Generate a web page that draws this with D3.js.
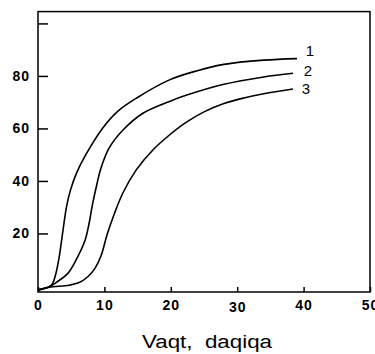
<!DOCTYPE html>
<html><head><meta charset="utf-8">
<script src="https://cdn.jsdelivr.net/npm/d3@7"></script>
<style>html,body{margin:0;padding:0;background:#fff;overflow:hidden}</style>
</head><body>
<svg id="c" width="375" height="354"></svg>
<script>
const xTicks = [0, 10, 20, 30, 40, 50];
const yTicks = [20, 40, 60, 80, 100];
const yTickLabels = ["20", "40", "60", "80", ""];
const seriesNames = ["1", "2", "3"];
const t1 = [0, 1.7, 2.2, 2.7, 3.2, 3.7, 4.3, 4.9, 5.8, 7.2, 9.7, 12, 14.8, 19.8, 24, 28, 34, 39];
const v1 = [-1.5, -0.3, 1, 4.8, 11.2, 20, 30.2, 36.6, 43, 50, 60, 66.5, 71.5, 78.5, 82, 84.4, 86, 86.6];
const t2 = [0, 1.7, 3, 4.5, 6.0, 7.1, 7.7, 8.2, 8.8, 9.5, 10.7, 12.8, 15.8, 19.8, 22.3, 28, 34, 38.4];
const v2 = [-1.5, -0.3, 1.8, 4.8, 11.2, 17.5, 23.9, 31, 38, 45, 52.5, 59.4, 65.8, 70.3, 72.6, 76.8, 79.6, 81];
const t3 = [0, 1.7, 4.7, 6.2, 7.5, 8.6, 9.5, 10.4, 11.5, 12.8, 14.8, 17.3, 19.8, 22.3, 25, 28, 31, 34, 38.4];
const v3 = [-1.5, -0.5, 0.3, 1.3, 3.5, 6.8, 11.5, 19.5, 27.5, 35.5, 44.2, 51.8, 57.5, 62.3, 66.3, 69.5, 71.6, 73.2, 75];
const xTitle = "Vaqt,  daqiqa";

const svg = d3.select("#c");
const x = d3.scaleLinear().domain([0, 50]).range([38, 370]);
const y = d3.scaleLinear().domain([-2.3, 104.5]).range([292, 11.6]);
const font = "'Liberation Sans', Arial, Helvetica, sans-serif";

// frame
svg.append("rect").attr("x", x(0)).attr("y", y(104.5)).attr("width", x(50) - x(0)).attr("height", y(-2.3) - y(104.5))
  .attr("fill", "none").attr("stroke", "#000").attr("stroke-width", 1.5);

// x axis ticks (inward)
const xa = svg.append("g").attr("transform", `translate(0,${y(-2.3)})`)
  .call(d3.axisBottom(x).tickValues(xTicks).tickSizeInner(-5).tickSizeOuter(0).tickPadding(0).tickFormat(d3.format("d")));
xa.select(".domain").remove();
xa.selectAll("line").attr("stroke-width", 1.5);
xa.selectAll("text").attr("font-family", font).attr("font-weight", "bold").attr("font-size", 14)
  .attr("fill", "#000").attr("y", 8).attr("dy", "0.71em").attr("letter-spacing", 1);
xa.selectAll(".tick").filter(d => d === 30).select("text").attr("y", 10);

// y axis ticks (inward)
const ya = svg.append("g").attr("transform", `translate(${x(0)},0)`)
  .call(d3.axisLeft(y).tickValues(yTicks).tickSizeInner(-10).tickSizeOuter(0).tickPadding(0)
    .tickFormat((d, i) => yTickLabels[i]));
ya.select(".domain").remove();
ya.selectAll("line").attr("stroke-width", 1.5);
ya.selectAll("text").attr("font-family", font).attr("font-weight", "bold").attr("font-size", 14)
  .attr("fill", "#000").attr("x", -8).attr("letter-spacing", 1);

// curves
const line = d3.line().x(d => x(d[0])).y(d => y(d[1])).curve(d3.curveCatmullRom.alpha(0.5));
const series = [[t1, v1], [t2, v2], [t3, v3]];
const labelOff = [[13, -7], [15, -1.5], [13, 1]];
series.forEach(([t, v], i) => {
  const pts = t.map((tt, j) => [tt, v[j]]);
  svg.append("path").datum(pts).attr("d", line).attr("fill", "none").attr("stroke", "#000").attr("stroke-width", 1.6);
  const last = pts[pts.length - 1];
  svg.append("text").attr("x", x(last[0]) + labelOff[i][0]).attr("y", y(last[1]) + labelOff[i][1])
    .attr("font-family", font).attr("font-size", 15).attr("text-anchor", "middle")
    .attr("dominant-baseline", "middle").text(seriesNames[i]);
});

// axis title
svg.append("text").attr("x", 142).attr("y", 348)
  .attr("font-family", font).attr("font-size", 18).attr("fill", "#000")
  .attr("textLength", 130).attr("lengthAdjust", "spacingAndGlyphs")
  .style("white-space", "pre").text(xTitle);
</script>
</body></html>
